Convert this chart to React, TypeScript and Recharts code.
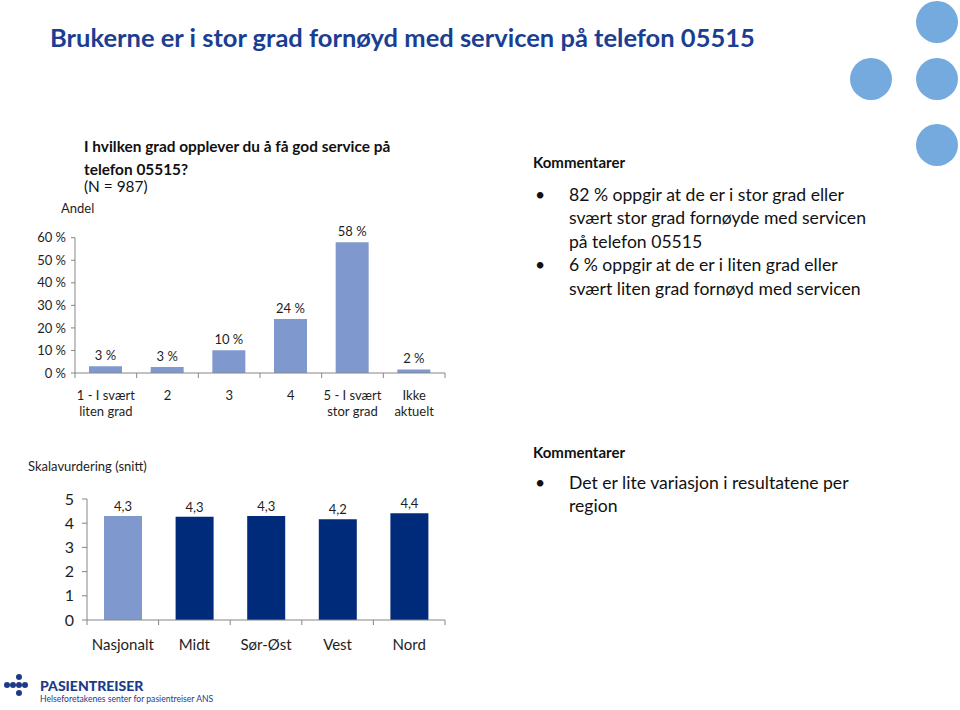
import React from 'react';
import { BarChart, Bar, XAxis, YAxis, LabelList, Cell } from 'recharts';

const answerLabels = ['1 - I svært\nliten grad', '2', '3', '4', '5 - I svært\nstor grad', 'Ikke\naktuelt'];
const answerShares = [3.0, 2.7, 10.1, 23.9, 58.0, 1.6];
const shareTicks = [0, 10, 20, 30, 40, 50, 60];

const regions = ['Nasjonalt', 'Midt', 'Sør-Øst', 'Vest', 'Nord'];
const regionScores = [4.3, 4.27, 4.3, 4.16, 4.41];
const scoreTicks = [0, 1, 2, 3, 4, 5];

const lightBlue = '#7F99CE';
const navy = '#002B7A';
const regionColors = [lightBlue, navy, navy, navy, navy];
const axisColor = '#868686';
const textColor = '#1e1e1e';
const FONT = 'Lato, "Open Sans", sans-serif';

const shareData = answerLabels.map((label, i) => ({ label, value: answerShares[i] }));
const scoreData = regions.map((label, i) => ({ label, value: regionScores[i] }));

const makeTick = (half: number, count: number, fontSize: number, firstDy: number, lineH: number) =>
  (props: any) => {
    const { x, y, payload, index } = props;
    const lines = String(payload.value).split('\n');
    return (
      <g>
        <line x1={x - half} x2={x - half} y1={y} y2={y + 5} stroke={axisColor} />
        {index === count - 1 && <line x1={x + half} x2={x + half} y1={y} y2={y + 5} stroke={axisColor} />}
        <text x={x} y={y + firstDy} textAnchor="middle" fontSize={fontSize} fill={textColor} fontFamily={FONT}>
          {lines.map((l, i) => (
            <tspan key={i} x={x} dy={i === 0 ? 0 : lineH}>{l}</tspan>
          ))}
        </text>
      </g>
    );
  };

const makeLabel = (fmt: (v: number) => string, gap: number) => (props: any) => {
  const { x, y, width, value } = props;
  return (
    <text x={Number(x) + Number(width) / 2} y={Number(y) - gap} textAnchor="middle" fontSize={13} fill={textColor} fontFamily={FONT}>
      {fmt(Number(value))}
    </text>
  );
};

const comments1 = [
  ['82 % oppgir at de er i stor grad eller', 'svært stor grad fornøyde med servicen', 'på telefon 05515'],
  ['6 % oppgir at de er i liten grad eller', 'svært liten grad fornøyd med servicen'],
];
const comments2 = [['Det er lite variasjon i resultatene per', 'region']];

const Comments = ({ top, items, gap }: { top: number; items: string[][]; gap: number }) => (
  <div style={{ position: 'absolute', left: 533, top, width: 420 }}>
    <div style={{ fontWeight: 700, fontSize: 15, color: '#111', lineHeight: '20px' }}>Kommentarer</div>
    <div style={{ marginTop: gap }}>
      {items.map((lines, i) => (
        <div key={i} style={{ position: 'relative', paddingLeft: 36, fontSize: 17.6, lineHeight: '23.4px', color: '#111', whiteSpace: 'nowrap' }}>
          <span style={{ position: 'absolute', left: 2, top: 0 }}>•</span>
          {lines.map((l, j) => <div key={j}>{l}</div>)}
        </div>
      ))}
    </div>
  </div>
);

const circles = [
  [937, 22], [871, 79], [937, 79], [937, 145],
];
const logoDots = [[7, 685], [13, 685], [19, 685], [25, 685], [19, 677], [19, 693]];

export default function App() {
  return (
    <div style={{ position: 'absolute', left: 0, top: 0, width: 960, height: 710, background: '#fff', fontFamily: FONT, overflow: 'hidden' }}>
      <div style={{ position: 'absolute', left: 50, top: 22, fontSize: 25.5, fontWeight: 700, color: '#1a3e92', whiteSpace: 'nowrap' }}>
        Brukerne er i stor grad fornøyd med servicen på telefon 05515
      </div>
      {circles.map(([cx, cy], i) => (
        <div key={i} style={{ position: 'absolute', left: cx - 21, top: cy - 21, width: 42, height: 42, borderRadius: '50%', background: '#74AADD' }} />
      ))}

      <div style={{ position: 'absolute', left: 84, top: 135, fontSize: 15.4, color: '#111', lineHeight: '23px', width: 380, whiteSpace: 'nowrap' }}>
        <div style={{ fontWeight: 700 }}>I hvilken grad opplever du å få god service på</div>
        <div style={{ fontWeight: 700 }}>telefon 05515?</div>
        <div style={{ marginTop: -6 }}>(N = 987)</div>
      </div>
      <div style={{ position: 'absolute', left: 61, top: 200, fontSize: 13, color: textColor }}>Andel</div>

      <div style={{ position: 'absolute', left: 0, top: 200 }}>
        <BarChart width={460} height={230} data={shareData} margin={{ top: 37.7, right: 15, left: 0, bottom: 0 }}>
          <YAxis
            width={75}
            domain={[0, 60]}
            ticks={shareTicks}
            interval={0}
            tickFormatter={(v: number) => `${v} %`}
            tick={{ fontSize: 13, fill: textColor, fontFamily: FONT }}
            stroke={axisColor}
            tickSize={4}
            tickMargin={5}
          />
          <XAxis
            dataKey="label"
            height={57}
            interval={0}
            stroke={axisColor}
            tickLine={false}
            tickSize={0}
            tickMargin={0}
            tick={makeTick(370 / 12, answerLabels.length, 13, 26.5, 16)}
          />
          <Bar dataKey="value" fill={lightBlue} barSize={33} isAnimationActive={false}>
            <LabelList dataKey="value" content={makeLabel((v) => `${Math.round(v)} %`, 6)} />
          </Bar>
        </BarChart>
      </div>

      <div style={{ position: 'absolute', left: 28, top: 458, fontSize: 13, color: textColor }}>Skalavurdering (snitt)</div>
      <div style={{ position: 'absolute', left: 0, top: 470 }}>
        <BarChart width={460} height={200} data={scoreData} margin={{ top: 29, right: 15, left: 0, bottom: 0 }}>
          <YAxis
            width={87}
            domain={[0, 5]}
            ticks={scoreTicks}
            interval={0}
            tick={{ fontSize: 16, fill: textColor, fontFamily: FONT }}
            stroke={axisColor}
            tickSize={5}
            tickMargin={8}
          />
          <XAxis
            dataKey="label"
            height={50}
            interval={0}
            stroke={axisColor}
            tickLine={false}
            tickSize={0}
            tickMargin={0}
            tick={makeTick(358 / 10, regions.length, 15, 30, 16)}
          />
          <Bar dataKey="value" barSize={38} isAnimationActive={false}>
            {scoreData.map((d, i) => <Cell key={i} fill={regionColors[i]} />)}
            <LabelList dataKey="value" content={makeLabel((v) => v.toFixed(1).replace('.', ','), 5)} />
          </Bar>
        </BarChart>
      </div>

      <Comments top={152} items={comments1} gap={11} />
      <Comments top={442} items={comments2} gap={9} />

      {logoDots.map(([cx, cy], i) => (
        <div key={i} style={{ position: 'absolute', left: cx - 3, top: cy - 3, width: 6, height: 6, borderRadius: '50%', background: '#1d3a8a' }} />
      ))}
      <div style={{ position: 'absolute', left: 40, top: 678, fontSize: 14, fontWeight: 900, color: '#1d3a8a', lineHeight: '16px' }}>PASIENTREISER</div>
      <div style={{ position: 'absolute', left: 40, top: 694, fontSize: 8.6, color: '#1d3a8a', lineHeight: '11px', whiteSpace: 'nowrap' }}>Helseforetakenes senter for pasientreiser ANS</div>
    </div>
  );
}
